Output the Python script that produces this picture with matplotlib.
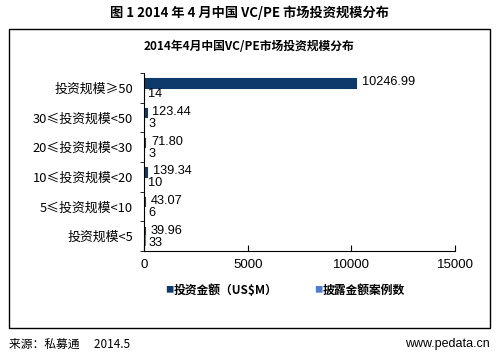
import matplotlib.pyplot as plt
from matplotlib.patches import Rectangle
import numpy as np

plt.rcParams['font.family'] = ['Noto Sans CJK SC', 'DejaVu Sans']

categories = ['投资规模≥50', '30≤投资规模<50', '20≤投资规模<30',
              '10≤投资规模<20', '5≤投资规模<10', '投资规模<5']
amount = [10246.99, 123.44, 71.80, 139.34, 43.07, 39.96]
amount_labels = ['10246.99', '123.44', '71.80', '139.34', '43.07', '39.96']
cases = [14, 3, 3, 10, 6, 33]
xticks = [0, 5000, 10000, 15000]

dark = '#0d3a6b'
light = '#4f7bd0'
num_font = ['Liberation Sans', 'DejaVu Sans']

fig = plt.figure(figsize=(4.98, 3.56), dpi=100)
W, H = 498, 356

# outer frame round the chart
fig.patches.append(Rectangle((9 / W, 1 - 328 / H), 481 / W, 299 / H,
                             transform=fig.transFigure, fill=False,
                             edgecolor='black', linewidth=1))

fig.text(0.5, 1 - 13 / H, '图 1 2014 年 4 月中国 VC/PE 市场投资规模分布',
         ha='center', va='center', fontsize=9.5, fontweight='bold')
fig.text(0.5, 1 - 47 / H, '2014年4月中国VC/PE市场投资规模分布',
         ha='center', va='center', fontsize=8.5, fontweight='bold')

ax = fig.add_axes([144 / W, 1 - 251 / H, (455 - 144) / W, (251 - 73) / H])

y = np.arange(len(categories))[::-1].astype(float)
h = 0.28
ax.barh(y + 0.15, amount, height=h, color=dark, edgecolor=dark, linewidth=1.5)
ax.barh(y - 0.15, cases, height=h, color=light, edgecolor=light, linewidth=1.5)

for yi, a, lab, c in zip(y, amount, amount_labels, cases):
    ax.text(a + 280, yi + 0.19, lab, va='center', ha='left', fontsize=9.2,
            family=num_font)
    ax.text(c + 200, yi - 0.22, str(c), va='center', ha='left', fontsize=9.2,
            family=num_font)

ax.set_xlim(0, 15000)
ax.set_ylim(-0.5, len(categories) - 0.5)
ax.set_xticks(xticks)
ax.set_xticklabels([str(t) for t in xticks], fontsize=9.5, family=num_font)
ax.tick_params(axis='x', direction='in', length=4, pad=6)
ax.set_yticks(y)
ax.set_yticklabels(categories, fontsize=9.3)
ax.set_yticks(np.arange(-0.5, len(categories), 1.0), minor=True)
ax.tick_params(axis='y', which='major', length=0, pad=8)
ax.tick_params(axis='y', which='minor', length=3, direction='out')
for s in ['top', 'right']:
    ax.spines[s].set_visible(False)

fig.text(165 / W, 1 - 290 / H, '■', color=dark, fontsize=6, va='center', ha='left')
fig.text(174 / W, 1 - 290 / H, '投资金额（US$M）', fontsize=8.5, fontweight='bold',
         va='center', ha='left')
fig.text(314 / W, 1 - 290 / H, '■', color=light, fontsize=6, va='center', ha='left')
fig.text(323 / W, 1 - 290 / H, '披露金额案例数', fontsize=8.5, fontweight='bold',
         va='center', ha='left')

fig.text(9 / W, 1 - 344 / H, '来源：私募通　 2014.5', fontsize=8.5,
         va='center', ha='left')
fig.text(490 / W, 1 - 344 / H, 'www.pedata.cn', fontsize=9,
         va='center', ha='right', family=num_font)

fig.savefig('out.png', dpi=100)
